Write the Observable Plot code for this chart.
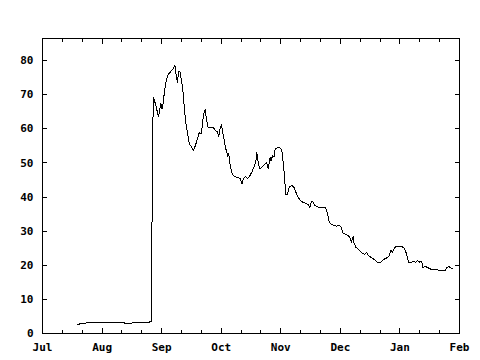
<!DOCTYPE html>
<html><head><meta charset="utf-8">
<script src="https://cdn.jsdelivr.net/npm/d3@7"></script>
<script src="https://cdn.jsdelivr.net/npm/@observablehq/plot@0.6"></script>
<style>body{margin:0;background:#fff} svg{shape-rendering:crispEdges}</style>
</head><body><div id="chart"></div>
<script>
// day offset from the first "Jul" tick, and measured value
const days = [17.7,18.7,19.9,22.5,25.8,27.5,29.1,34.2,38.3,40.1,41.7,43.4,45.1,50.1,51.8,53.4,54.3,54.9,55.0,55.4,55.8,
56.8,58.4,59.6,60.2,60.7,61.3,62.0,63.0,64.3,65.7,66.7,67.3,68.0,68.5,69.3,70.0,70.7,71.4,72.0,72.7,73.9,74.9,76.0,77.0,78.0,79.0,79.9,80.6,81.1,81.9,82.4,83.3,84.8,86.1,87.1,88.1,88.8,89.4,90.1,90.8,91.5,92.1,92.8,93.3,93.8,94.5,95.5,96.8,98.1,99.5,100.2,100.5,101.2,102.2,103.2,104.2,105.4,106.5,107.5,107.9,108.7,109.5,110.9,112.1,112.9,113.7,114.6,115.1,115.9,116.6,117.2,118.2,119.6,120.5,121.3,122.0,122.5,123.3,124.3,125.5,126.6,127.6,128.8,
130.0,131.0,132.7,133.8,134.7,135.5,136.3,137.2,138.3,139.7,141.4,142.4,143.1,143.9,144.4,145.6,146.7,148.1,149.4,150.3,151.4,152.8,153.9,154.8,155.6,156.4,156.9,157.8,158.9,160.2,161.2,162.3,163.2,164.0,165.2,166.5,167.8,169.0,170.2,171.2,172.4,173.5,174.5,175.4,176.2,177.4,178.5,179.9,181.9,182.9,183.6,184.3,185.8,186.9,187.9,188.8,189.6,190.8,191.3,191.6,193.0,194.1,195.8,198.3,200.9,202.7,203.7,204.7,205.5,206.4];
const values = [2.5,2.8,3.0,3.1,3.2,3.3,3.1,3.1,3.1,3.3,3.0,2.8,3.1,3.1,3.3,3.2,3.5,3.5,20.0,52.8,69.3,
67.5,63.6,67.4,65.9,67.4,70.3,73.2,75.7,76.6,77.6,78.6,75.7,73.7,76.9,76.6,74.2,71.3,66.4,62.5,60.0,55.6,54.9,53.7,55.1,57.1,59.0,58.6,61.5,64.4,65.6,63.4,60.5,60.5,60.3,59.5,59.2,57.8,60.0,61.3,59.0,56.6,54.6,53.2,51.9,52.7,49.3,46.8,46.0,45.8,45.5,44.4,43.9,45.4,46.0,45.4,46.0,47.3,48.8,50.7,53.2,49.8,48.3,49.0,49.8,50.2,48.3,51.7,50.7,52.2,51.7,54.2,54.4,54.4,53.9,49.8,44.9,40.8,40.8,43.0,43.4,42.9,41.4,39.8,
39.0,38.5,38.2,37.8,37.0,38.8,38.5,37.5,37.2,36.9,37.0,36.9,36.1,34.3,32.6,32.0,31.7,31.5,31.7,31.2,29.4,29.0,28.7,28.2,26.8,28.4,26.5,25.3,24.8,24.1,23.4,23.2,23.8,22.9,22.4,21.9,21.4,20.7,20.7,21.4,21.9,22.2,22.6,24.5,23.8,25.3,25.5,25.5,25.3,24.1,22.6,20.9,20.9,21.2,20.9,21.4,20.9,21.2,20.2,19.4,19.6,19.3,18.8,18.7,18.5,18.5,19.3,19.6,19.3,19.0];
const monthTicks = [0,30,60,90,120,150,180,210];
const monthLabels = ["Jul","Aug","Sep","Oct","Nov","Dec","Jan","Feb"];
const minorTicks = [10,20,40,50,70,80,100,110,130,140,160,170,190,200];
const yTicks = [0,10,20,30,40,50,60,70,80];

const data = days.map((d, i) => ({day: d, value: values[i]}));
const blank = () => "";

const chart = Plot.plot({
  width: 480, height: 360,
  marginLeft: 42, marginRight: 21, marginTop: 38, marginBottom: 27,
  style: {fontFamily: "'DejaVu Sans Mono', monospace", fontSize: "11px", fontWeight: "bold", background: "#fff", color: "#000"},
  x: {domain: [0, 210]},
  y: {domain: [0, 86.5]},
  marks: [
    Plot.axisX({ticks: monthTicks, tickSize: 0, tickPadding: 10, tickFormat: d => monthLabels[monthTicks.indexOf(d)], label: null}),
    Plot.axisX({anchor: "bottom", ticks: monthTicks, tickSize: 5, dy: -5, tickFormat: blank, label: null}),
    Plot.axisX({anchor: "bottom", ticks: minorTicks, tickSize: 3, dy: -3, tickFormat: blank, label: null}),
    Plot.axisX({anchor: "top", ticks: monthTicks, tickSize: 5, dy: 5, tickFormat: blank, label: null}),
    Plot.axisX({anchor: "top", ticks: minorTicks, tickSize: 3, dy: 3, tickFormat: blank, label: null}),
    Plot.axisY({ticks: yTicks, tickSize: 0, tickPadding: 9, label: null}),
    Plot.axisY({anchor: "left", ticks: yTicks, tickSize: 5, dx: 5, tickFormat: blank, label: null}),
    Plot.axisY({anchor: "right", ticks: yTicks, tickSize: 5, dx: -5, tickFormat: blank, label: null}),
    Plot.frame({stroke: "#000"}),
    Plot.line(data, {x: "day", y: "value", stroke: "#000", strokeWidth: 1})
  ]
});
document.getElementById("chart").appendChild(chart);
</script>
</body></html>
